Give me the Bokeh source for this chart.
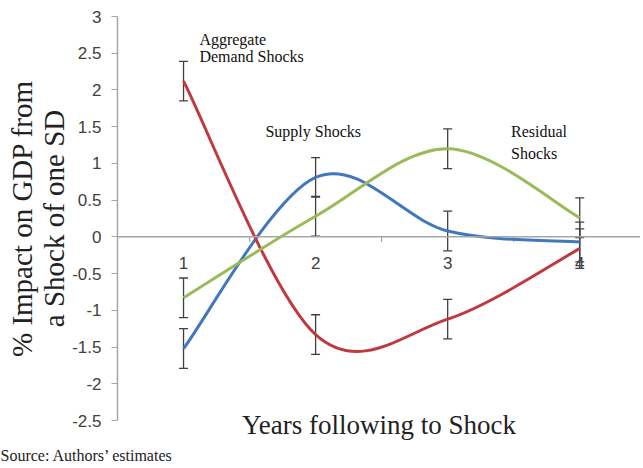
from bokeh.plotting import figure
from bokeh.models import (Range1d, FixedTicker, Span, Whisker, TeeHead, Title,
                          ColumnDataSource)
from bokeh.core.properties import value
from bokeh.embed import file_html
from bokeh.resources import INLINE

# ---- data ----
years = [1, 2, 3, 4]
year_labels = ["1", "2", "3", "4"]
demand = [2.12, -1.33, -1.12, -0.16]
supply = [-1.52, 0.81, 0.08, -0.07]
residual = [-0.83, 0.28, 1.20, 0.26]
err_demand = [0.27, 0.27, 0.27, 0.27]
err_supply = [0.27, 0.27, 0.27, 0.27]
err_residual = [0.27, 0.27, 0.27, 0.27]
y_ticks = [-2.5, -2.0, -1.5, -1.0, -0.5, 0.0, 0.5, 1.0, 1.5, 2.0, 2.5, 3.0]
y_tick_labels = ["-2.5", "-2", "-1.5", "-1", "-0.5", "0", "0.5", "1", "1.5", "2", "2.5", "3"]

RED = "#c0393e"
BLUE = "#4077bd"
GREEN = "#9bbb59"
GRAY = "#a6a6a6"

p = figure(width=640, height=465, output_backend="svg", toolbar_location=None,
           x_range=Range1d(0.5, 4.46), y_range=Range1d(-2.5, 3.0))
p.min_border_left = 117
p.min_border_top = 16
p.min_border_bottom = 42
p.min_border_right = 0
p.outline_line_color = None
p.xgrid.visible = False
p.ygrid.visible = False

xa = p.xaxis[0]
xa.ticker = FixedTicker(ticks=[])
xa.axis_line_color = None
xa.major_tick_out = 0
xa.major_tick_in = 0
xa.minor_tick_line_color = None
xa.major_label_text_font_size = "0px"
xa.major_label_standoff = 0
xa.axis_label = "Years following to Shock"
xa.axis_label_text_font = "Liberation Serif"
xa.axis_label_text_font_style = "normal"
xa.axis_label_text_font_size = "27px"
xa.axis_label_text_color = "#222222"
xa.axis_label_standoff = -11

ya = p.yaxis[0]
ya.ticker = FixedTicker(ticks=y_ticks)
ya.major_label_overrides = dict(zip(y_ticks, y_tick_labels))
ya.axis_line_color = GRAY
ya.axis_line_width = 1.5
ya.major_tick_line_color = GRAY
ya.major_tick_out = 6
ya.major_tick_in = 0
ya.minor_tick_line_color = None
ya.major_label_standoff = 10
ya.major_label_text_font = "Liberation Sans"
ya.major_label_text_font_size = "17px"
ya.major_label_text_color = "#404040"
ya.axis_label = "% Impact on GDP from\na Shock of one SD"
ya.axis_label_text_font = "Liberation Serif"
ya.axis_label_text_font_style = "normal"
ya.axis_label_text_font_size = "29px"
ya.axis_label_text_line_height = 1.0
ya.axis_label_text_color = "#222222"
ya.axis_label_standoff = -1

p.add_layout(Title(text="Source: Authors\u2019 estimates", align="left", offset=-117,
                   text_font="Liberation Serif", text_font_size="16px",
                   text_font_style="normal", text_color="#222222", standoff=4),
             "below")

# zero line acting as category axis
p.add_layout(Span(location=0, dimension="width", line_color=GRAY, line_width=1.5))
bounds = [c + 0.5 for c in years]
p.segment(x0=bounds, y0=[0] * len(bounds), x1=bounds, y1=[-0.07] * len(bounds),
          line_color=GRAY, line_width=1.2)
p.text(x=years, y=[0] * len(years), text=year_labels, y_offset=26,
       text_align="center", text_baseline="middle",
       text_font=value("Liberation Sans"), text_font_size="17px",
       text_color="#404040")


def smooth(xs, ys):
    n = len(xs)
    out = dict(x0=[], y0=[], x1=[], y1=[], cx0=[], cy0=[], cx1=[], cy1=[])
    for i in range(n - 1):
        a = max(i - 1, 0)
        d = min(i + 2, n - 1)
        out["x0"].append(xs[i]); out["y0"].append(ys[i])
        out["x1"].append(xs[i + 1]); out["y1"].append(ys[i + 1])
        out["cx0"].append(xs[i] + (xs[i + 1] - xs[a]) / 6)
        out["cy0"].append(ys[i] + (ys[i + 1] - ys[a]) / 6)
        out["cx1"].append(xs[i + 1] - (xs[d] - xs[i]) / 6)
        out["cy1"].append(ys[i + 1] - (ys[d] - ys[i]) / 6)
    return out


for ys, col in [(supply, BLUE), (demand, RED), (residual, GREEN)]:
    p.bezier(**smooth(years, ys), line_color=col, line_width=3)

for ys, es in [(supply, err_supply), (demand, err_demand), (residual, err_residual)]:
    src = ColumnDataSource(dict(x=years,
                                upper=[v + e for v, e in zip(ys, es)],
                                lower=[v - e for v, e in zip(ys, es)]))
    w = Whisker(source=src, base="x", upper="upper", lower="lower",
                dimension="height", line_color="#404040", line_width=1.3,
                upper_head=TeeHead(size=9, line_color="#404040", line_width=1.3),
                lower_head=TeeHead(size=9, line_color="#404040", line_width=1.3))
    p.add_layout(w)

# series annotations
ann_text = ["Aggregate", "Demand Shocks", "Supply Shocks", "Residual", "Shocks"]
ann_x = [1.12, 1.12, 1.62, 3.48, 3.48]
ann_y = [2.69, 2.45, 1.43, 1.44, 1.14]
p.text(x=ann_x, y=ann_y, text=ann_text, text_align="left", text_baseline="middle",
       text_font=value("Liberation Serif"), text_font_size="16px",
       text_color="#111111")

open("out.html", "w").write(file_html(p, INLINE))
